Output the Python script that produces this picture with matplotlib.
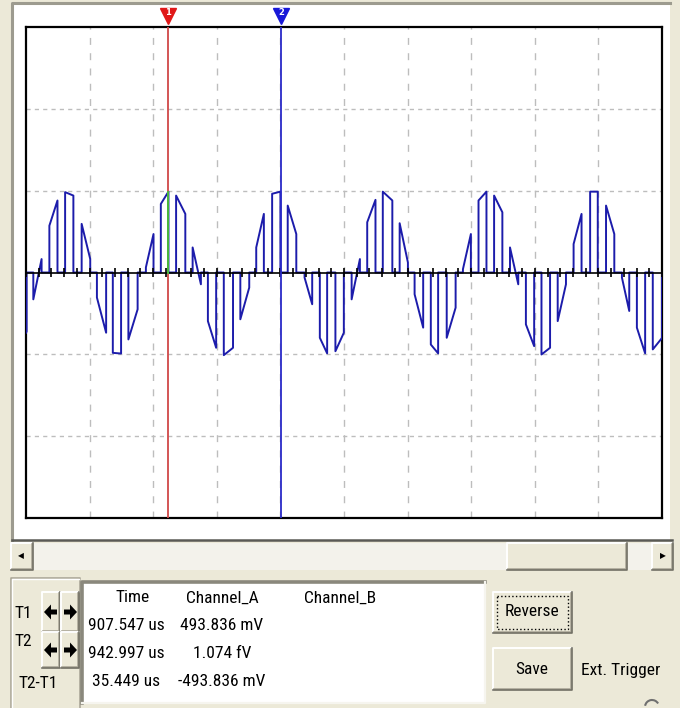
import numpy as np
import matplotlib
matplotlib.use("Agg")
import matplotlib.pyplot as plt
from matplotlib import font_manager
from matplotlib.patches import Rectangle, FancyArrow, Arc
from matplotlib.transforms import blended_transform_factory

# narrow UI font if there is one, otherwise Roboto a bit smaller
avail = {f.name for f in font_manager.fontManager.ttflist}
ui_font, ui_size = 'Roboto', 10.5
for name in ['Liberation Sans Narrow', 'Roboto Condensed', 'Arial Narrow']:
    if name in avail:
        ui_font, ui_size = name, 12.5
        break
plt.rcParams['font.family'] = [ui_font, 'DejaVu Sans']

# screen: 10 div x 20 us, 6 div x 500 mV
t_span = 200.0
v_half = 1500.0

# chopped sine trace, one "on" piece per entry (us, mV)
seg_t0 = [0.0, 2.3, 7.35, 12.3, 17.5, 22.3, 27.3, 32.2, 37.7, 42.4,
          47.2, 52.4, 57.2, 62.2, 67.4, 72.4, 77.4, 82.3, 87.6, 92.4,
          97.3, 102.4, 107.3, 112.2, 117.5, 122.2, 127.3, 132.3, 137.4, 142.3,
          147.2, 152.2, 157.2, 162.1, 167.2, 172.2, 177.4, 182.4, 187.4, 192.1,
          197.1]
seg_t1 = [0.2, 4.9, 9.9, 14.9, 20.2, 25.2, 29.9, 35.1, 40.1, 44.8,
          50.1, 55.0, 59.8, 65.1, 70.2, 74.8, 80.0, 85.0, 90.0, 94.7,
          99.95, 105.0, 109.9, 115.2, 120.1, 124.9, 129.6, 135.1, 139.9, 144.8,
          149.8, 154.8, 159.8, 164.8, 169.8, 174.7, 179.8, 185.0, 189.7, 194.7,
          200.0]
seg_v0 = [-370, -164, 286, 491, 297, -153, -491, -409, 31, 419,
          470, 153, -297, -505, -286, 153, 481, 409, -31, -399,
          -481, -164, 307, 494, 301, -133, -440, -399, 20, 440,
          470, 153, -317, -501, -297, 174, 494, 409, -31, -337,
          -470]
seg_v1 = [-360, 82, 440, 470, 82, -368, -495, -225, 235, 494,
          358, -72, -460, -460, -92, 358, 494, 235, -194, -494,
          -368, 82, 444, 440, 61, -337, -494, -215, 235, 494,
          368, -72, -450, -460, -72, 358, 494, 235, -235, -494,
          -400]

cursor_t1 = 44.8
cursor_dt = 35.449
cursor_v1 = 493.836

col_heads = ["Time", "Channel_A", "Channel_B"]
row_time = ["907.547 us", "942.997 us", "35.449 us"]
row_chA = ["493.836 mV", "1.074 fV", "-493.836 mV"]
row_names = ["T1", "T2", "T2-T1"]

bg = '#ECE9D8'
trace_col = '#1c1cab'

fig = plt.figure(figsize=(6.8, 7.08), dpi=100)
fig.patch.set_facecolor(bg)

# pixel-space layer for the window chrome
ui = fig.add_axes([0, 0, 1, 1])
ui.set_xlim(0, 680)
ui.set_ylim(708, 0)
ui.axis('off')


def bevel(x, y, w, h, face=bg, edge=True):
    ui.add_patch(Rectangle((x, y), w, h, fc=face, ec='none'))
    ui.plot([x, x, x + w], [y + h, y, y], color='white', lw=1.4)
    ui.plot([x + 1, x + w - 1, x + w - 1], [y + h - 1, y + h - 1, y + 1],
            color='#aca899', lw=1.2)
    if edge:
        ui.plot([x, x + w, x + w], [y + h, y + h, y], color='#716f64', lw=1.2)


def label(x, y, s, **kw):
    ui.text(x, y, s, fontsize=ui_size, ha='center', va='center', **kw)


# white screen panel
ui.add_patch(Rectangle((12, 3), 658, 537, fc='white', ec='none'))
ui.plot([12, 12, 670], [540, 3, 3], color='#9d9b8f', lw=2.2)
ui.plot([12, 672], [540, 540], color='#5a5a55', lw=1.8)

# scrollbar
ui.add_patch(Rectangle((11, 543), 662, 27, fc='#F3F2EB', ec='none'))
bevel(11, 543, 22, 27)
bevel(507, 543, 120, 27)
bevel(652, 543, 21, 27)
ui.text(21, 556, '\u25C0', fontsize=5.5, ha='center', va='center', family='DejaVu Sans')
ui.text(663, 556, '\u25B6', fontsize=5.5, ha='center', va='center', family='DejaVu Sans')

# cursor group box
ui.plot([11, 11, 80, 80], [708, 578, 578, 708], color='#aca899', lw=1.2)
ui.plot([12, 12, 79], [708, 579, 579], color='white', lw=1)
for by, bh in ((592, 40), (632, 36)):
    bevel(42, by, 18, bh)
    bevel(61, by, 18, bh)
    cy = by + bh / 2
    ui.add_patch(FancyArrow(57, cy, -13, 0, width=5, head_width=15,
                            head_length=7, fc='black', ec='none',
                            length_includes_head=True))
    ui.add_patch(FancyArrow(64, cy, 13, 0, width=5, head_width=15,
                            head_length=7, fc='black', ec='none',
                            length_includes_head=True))
label(23, 614, row_names[0])
label(23, 641, row_names[1])
label(38, 683, row_names[2])

# readout box
ui.add_patch(Rectangle((82, 582), 403, 121, fc='white', ec='none'))
ui.plot([82, 82, 485], [703, 582, 582], color='#8a887c', lw=2.6)
ui.plot([485, 485, 82], [582, 703, 703], color='#f6f5ef', lw=1.6)
for x, s in zip([133, 222, 340], col_heads):
    label(x, 598, s)
for i, y in enumerate([625, 653, 682]):
    label(126, y, row_time[i])
    label(222, y, row_chA[i])

# buttons
bevel(493, 592, 79, 41)
ui.add_patch(Rectangle((497, 596), 71, 33, fill=False, ec='black', ls=':', lw=1))
label(532, 612, "Reverse")
bevel(493, 648, 79, 42)
label(532, 669, "Save")
label(621, 670, "Ext. Trigger")
ui.add_patch(Arc((652, 707), 14, 14, theta1=190, theta2=330, color='#707070', lw=1.5))

# scope screen
ax = fig.add_axes([26 / 680, (708 - 518) / 708, 636 / 680, 491 / 708])
ax.set_facecolor('white')
ax.set_xlim(0, t_span)
ax.set_ylim(-v_half, v_half)
ax.set_xticks([])
ax.set_yticks([])
for sp in ax.spines.values():
    sp.set_color('black')
    sp.set_linewidth(1.6)

for gx in np.arange(20, t_span, 20):
    ax.axvline(gx, color='#bdbdbd', lw=1, ls=(0, (5, 6)), zorder=1)
for gy in (-1000, -500, 500, 1000):
    ax.axhline(gy, color='#bdbdbd', lw=1, ls=(0, (3, 3)), zorder=1)

# build trace polyline from the "on" pieces
tt, vv = [0.0], [0.0]
for a, b, va, vb in zip(seg_t0, seg_t1, seg_v0, seg_v1):
    tt += [a, a, b, b]
    vv += [0, va, vb, 0]
tt.append(t_span)
vv.append(0)
ax.plot(tt, vv, color=trace_col, lw=1.4, zorder=3)

ax.axhline(0, color='black', lw=1.2, zorder=4)
minor = np.arange(0, t_span + 0.1, 4)
ax.vlines(minor, -28, 28, color='black', lw=1.2, zorder=4)

cur2 = cursor_t1 + cursor_dt
ax.axvline(cursor_t1, color='#d04848', lw=1.3, zorder=5)
ax.axvline(cur2, color='#2a2ac8', lw=1.3, zorder=5)
ax.plot([cursor_t1, cursor_t1], [0, cursor_v1], color='#3cc23c', lw=1.3, zorder=6)

bt = blended_transform_factory(ax.transData, ax.transAxes)
for x, c, lab in ((cursor_t1, '#e01818', '1'), (cur2, '#1818d8', '2')):
    ax.plot([x], [1.023], marker='v', ms=12, color=c, transform=bt,
            clip_on=False, zorder=7)
    ax.text(x, 1.029, lab, color='white', fontsize=6, ha='center', va='center',
            transform=bt, clip_on=False, zorder=8, family='DejaVu Sans',
            fontweight='bold')

fig.savefig('out.png', dpi=100, facecolor=bg)
